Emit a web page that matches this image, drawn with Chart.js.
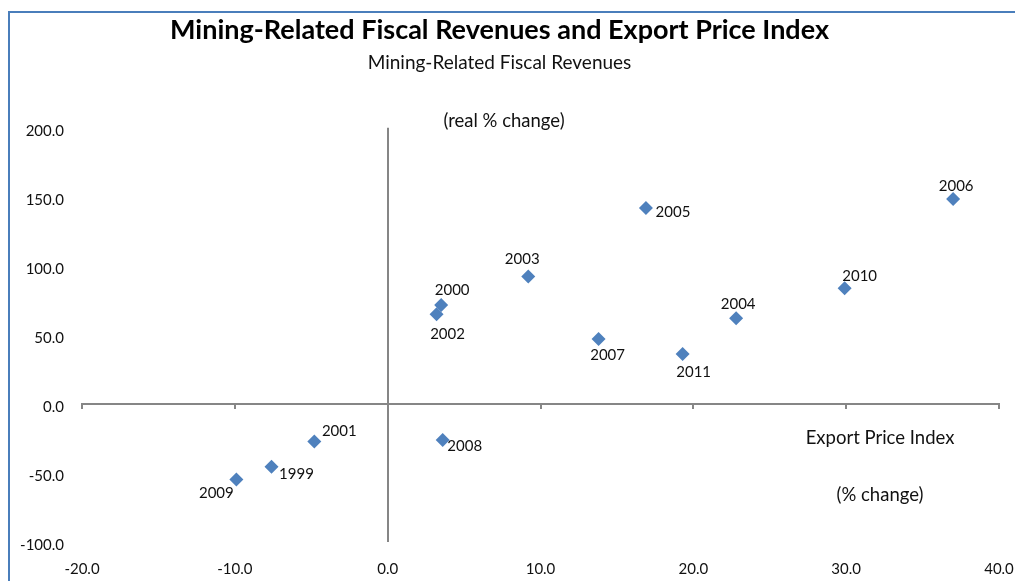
<!DOCTYPE html>
<html>
<head>
<meta charset="utf-8">
<script src="https://cdn.jsdelivr.net/npm/chart.js@4.4.1/dist/chart.umd.min.js"></script>
<style>
  html, body { margin: 0; padding: 0; background: #fff; }
  #wrap { position: relative; width: 1015px; height: 581px; overflow: hidden; }
  #frame { position: absolute; left: 8px; top: 11px; width: 1100px; height: 700px;
           border-top: 2px solid #4a7ebb; border-left: 2px solid #4a7ebb; pointer-events: none; }
</style>
</head>
<body>
<div id="wrap">
  <canvas id="chart" width="1015" height="581"></canvas>
  <div id="frame"></div>
</div>
<script>
// --- DATA ---
const years = ['1999', '2000', '2001', '2002', '2003', '2004', '2005',
               '2006', '2007', '2008', '2009', '2010', '2011'];
const exportPriceChange = [-7.6, 3.5, -4.8, 3.2, 9.2, 22.8, 16.9,
                           37.0, 13.8, 3.6, -9.9, 29.9, 19.3];
const fiscalRevenueChange = [-45.5, 71.6, -27.2, 64.9, 92.2, 62.0, 141.9,
                             148.4, 47.0, -26.2, -54.7, 83.7, 36.1];
const xTicks = [-20, -10, 0, 10, 20, 30, 40];
const yTicks = [-100, -50, 0, 50, 100, 150, 200];

// --- STYLE ---
const FONT = "Lato, 'Open Sans', sans-serif";
const AXIS_GREY = '#868686';
const MARKER_BLUE = '#4f81bd';
// where each year label sits relative to its marker (dx, dy in px)
const labelOffset = {
    '1999': [25, 7],  '2000': [11, -15], '2001': [25, -10], '2002': [11, 20],
    '2003': [-6, -17], '2004': [2, -14], '2005': [27, 4],  '2006': [3, -13],
    '2007': [9, 16],  '2008': [22, 6],   '2009': [-20, 14], '2010': [15, -12],
    '2011': [11, 18]
};

const points = years.map((y, i) => ({ x: exportPriceChange[i], y: fiscalRevenueChange[i] }));

// --- PLUGINS ---
const yearLabels = {
    id: 'yearLabels',
    afterDatasetsDraw(chart) {
        const ctx = chart.ctx;
        const meta = chart.getDatasetMeta(0);
        ctx.save();
        ctx.font = '15px ' + FONT;
        ctx.fillStyle = '#111';
        ctx.textAlign = 'center';
        ctx.textBaseline = 'middle';
        meta.data.forEach((pt, i) => {
            const off = labelOffset[years[i]] || [0, -14];
            ctx.fillText(years[i], pt.x + off[0], pt.y + off[1]);
        });
        ctx.restore();
    }
};

const axisNotes = {
    id: 'axisNotes',
    afterDraw(chart) {
        const ctx = chart.ctx;
        ctx.save();
        ctx.font = '18.5px ' + FONT;
        ctx.fillStyle = '#111';
        ctx.textAlign = 'center';
        ctx.textBaseline = 'middle';
        ctx.fillText('(real % change)', 504, 121);
        ctx.fillText('Export Price Index', 880, 438);
        ctx.fillText('(% change)', 880, 495);
        ctx.restore();
    }
};

// --- CHART ---
const oneDecimal = v => Number(v).toFixed(1);

new Chart(document.getElementById('chart'), {
    type: 'scatter',
    data: {
        datasets: [{
            label: 'Mining-Related Fiscal Revenues',
            data: points,
            pointStyle: 'rectRot',
            pointRadius: 7,
            pointHoverRadius: 7,
            backgroundColor: MARKER_BLUE,
            borderColor: MARKER_BLUE,
            borderWidth: 0
        }]
    },
    options: {
        responsive: false,
        animation: false,
        layout: { padding: { left: 0, right: 16, top: 0, bottom: 0 } },
        plugins: {
            legend: { display: false },
            tooltip: { enabled: false },
            title: {
                display: true,
                text: 'Mining-Related Fiscal Revenues and Export Price Index',
                color: '#000',
                font: { family: FONT, size: 27, weight: 'bold' },
                padding: { top: 14, bottom: 5 }
            },
            subtitle: {
                display: true,
                text: 'Mining-Related Fiscal Revenues',
                color: '#111',
                font: { family: FONT, size: 19 },
                padding: { top: 0, bottom: 53.5 }
            }
        },
        scales: {
            x: {
                type: 'linear',
                position: 'bottom',
                min: xTicks[0],
                max: xTicks[xTicks.length - 1],
                border: { display: false },
                grid: {
                    drawTicks: false,
                    color: c => c.tick && c.tick.value === 0 ? AXIS_GREY : 'rgba(0,0,0,0)',
                    lineWidth: 2
                },
                ticks: {
                    stepSize: xTicks[1] - xTicks[0],
                    padding: 18,
                    color: '#111',
                    font: { family: FONT, size: 15 },
                    maxRotation: 0,
                    callback: oneDecimal
                },
                afterFit(scale) {
                    scale.height = 39;
                    scale.paddingLeft = 0;
                    scale.paddingRight = 0;
                }
            },
            xZero: {
                type: 'linear',
                position: { y: 0 },
                min: xTicks[0],
                max: xTicks[xTicks.length - 1],
                border: { display: true, color: AXIS_GREY, width: 2 },
                grid: { drawOnChartArea: false, drawTicks: true, tickLength: 4, color: AXIS_GREY, lineWidth: 2 },
                ticks: { display: false, stepSize: xTicks[1] - xTicks[0] }
            },
            y: {
                type: 'linear',
                position: 'left',
                min: yTicks[0],
                max: yTicks[yTicks.length - 1],
                border: { display: false },
                grid: { display: false, drawTicks: false },
                ticks: {
                    stepSize: yTicks[1] - yTicks[0],
                    padding: 18,
                    labelOffset: 3,
                    color: '#111',
                    font: { family: FONT, size: 15 },
                    callback: oneDecimal
                },
                afterFit(scale) {
                    scale.width = 82;
                    scale.paddingTop = 0;
                    scale.paddingBottom = 0;
                }
            }
        }
    },
    plugins: [yearLabels, axisNotes]
});
</script>
</body>
</html>
